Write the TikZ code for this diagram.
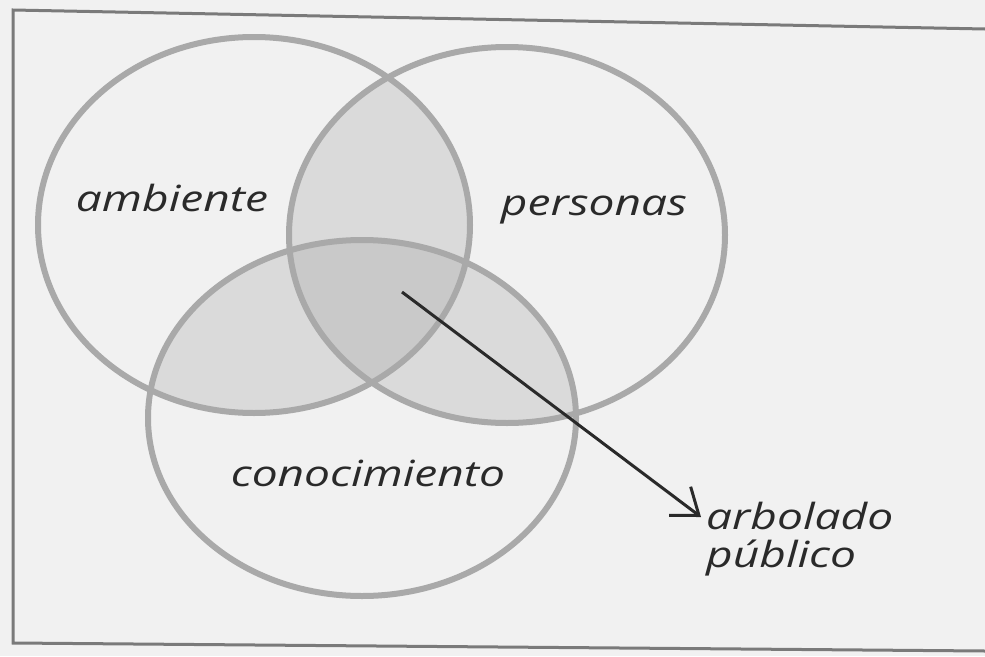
\documentclass[tikz,border=0pt]{standalone}
\usepackage{fontspec}
\setmainfont{Open Sans}
\newfontfamily\handfont[FakeStretch=1.28]{Open Sans}
\usetikzlibrary{arrows.meta}
\definecolor{bgcol}{HTML}{F1F1F1}
\definecolor{paircol}{HTML}{DADADA}
\definecolor{triplecol}{HTML}{C9C9C9}
\definecolor{rimcol}{HTML}{A9A9A9}
\definecolor{framecol}{HTML}{7A7A7A}
\definecolor{inkcol}{HTML}{2A2A2A}
\tikzset{
  rim/.style={draw=rimcol, line width=6pt},
  lbl/.style={font=\handfont\itshape\fontsize{36}{40}\selectfont, text=inkcol, inner sep=0pt},
  pointer/.style={draw=inkcol, line width=3pt, -{Straight Barb[length=24pt,width=36pt,line width=3pt]}},
}
\def\ambP{(254,225) ellipse [x radius=216pt, y radius=188pt]}
\def\perP{(507,235) ellipse [x radius=218pt, y radius=188pt]}
\def\conP{(362,418) ellipse [x radius=214pt, y radius=178pt]}
\begin{document}
\begin{tikzpicture}[x=1pt,y=-1pt]
\useasboundingbox (0,0) rectangle (985,656);
\fill[bgcol] (0,0) rectangle (985,656);
% frame
\draw[framecol, line width=3pt] (985,29) -- (13,10) -- (13,643) -- (985,651);
% pairwise intersections
\begin{scope}
  \clip \ambP;
  \fill[paircol] \perP;
  \fill[paircol] \conP;
\end{scope}
\begin{scope}
  \clip \perP;
  \fill[paircol] \conP;
\end{scope}
% triple intersection
\begin{scope}
  \clip \ambP;
  \clip \perP;
  \fill[triplecol] \conP;
\end{scope}
% rims
\draw[rim] \ambP;
\draw[rim] \perP;
\draw[rim] \conP;
% labels
\node[lbl] (amb) at (172,198) {ambiente};
\node[lbl] (per) at (594,210) {personas};
\node[lbl] (con) at (368,473) {conocimiento};
\node[lbl, anchor=west, align=left, font=\handfont\itshape\fontsize{36}{38}\selectfont] (arb) at (706,539) {arbolado\\público};
% arrow
\coordinate (start) at (402,292);
\coordinate (tip) at (701,517);
\draw[pointer] (start) -- (tip);
\end{tikzpicture}
\end{document}
